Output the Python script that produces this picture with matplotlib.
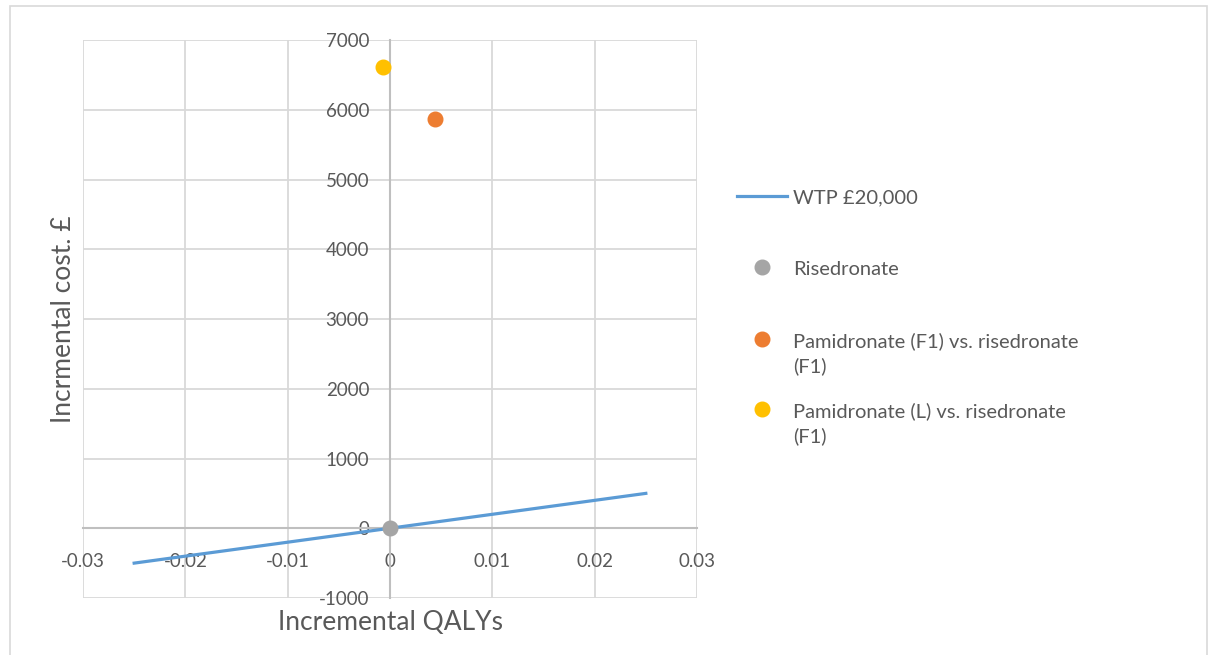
import numpy as np
import matplotlib
matplotlib.use("Agg")
import matplotlib.pyplot as plt
from matplotlib.patches import Rectangle

plt.rcParams['font.family'] = ['Lato', 'DejaVu Sans']
plt.rcParams['axes.unicode_minus'] = False

# willingness-to-pay line (£20,000 per QALY)
wtp_x = [-0.025, 0.025]
wtp_y = [-500, 500]

# comparator points (incremental QALYs, incremental cost)
rise_x, rise_y = [0.0], [0.0]
pam_f1_x, pam_f1_y = [0.0044], [5864]
pam_l_x, pam_l_y = [-0.0007], [6614]

labels = ["WTP £20,000", "Risedronate",
          "Pamidronate (F1) vs. risedronate\n(F1)",
          "Pamidronate (L) vs. risedronate\n(F1)"]

xticks = [-0.03, -0.02, -0.01, 0, 0.01, 0.02, 0.03]
xticklabels = ["-0.03", "-0.02", "-0.01", "0", "0.01", "0.02", "0.03"]
yticks = [-1000, 0, 1000, 2000, 3000, 4000, 5000, 6000, 7000]

txt = "#595959"
grid_c = "#d9d9d9"

fig = plt.figure(figsize=(12.11, 6.55), dpi=100)
fig.patches.append(Rectangle((10/1211, -0.1), 1197/1211, 1 - 6/655 + 0.1,
                             transform=fig.transFigure, fill=False,
                             edgecolor=grid_c, lw=1.2))

ax = fig.add_axes([83/1211, 57/655, 614/1211, 558/655])

ax.plot(wtp_x, wtp_y, color="#5B9BD5", lw=2.3, label=labels[0], zorder=3)
ax.plot(rise_x, rise_y, 'o', color="#A5A5A5", ms=10.5, label=labels[1], zorder=4)
ax.plot(pam_f1_x, pam_f1_y, 'o', color="#ED7D31", ms=10.5, label=labels[2], zorder=4)
ax.plot(pam_l_x, pam_l_y, 'o', color="#FFC000", ms=10.5, label=labels[3], zorder=4)

ax.set_xlim(-0.03, 0.03)
ax.set_ylim(-1000, 7000)
ax.set_xticks(xticks)
ax.set_xticklabels(xticklabels)
ax.set_yticks(yticks)
ax.grid(True, color=grid_c, lw=1.3, zorder=0)
ax.set_axisbelow(True)

for s in ['top', 'right']:
    ax.spines[s].set_visible(False)
ax.spines['bottom'].set_position(('data', 0))
ax.spines['left'].set_position(('data', 0))
for s in ['bottom', 'left']:
    ax.spines[s].set_color("#bfbfbf")
    ax.spines[s].set_linewidth(1.5)
    ax.spines[s].set_zorder(1)

ax.tick_params(axis='x', length=0, pad=18, labelsize=13.5, labelcolor=txt)
ax.tick_params(axis='y', length=0, pad=15, labelsize=13.5, labelcolor=txt)

ax.set_xlabel("Incremental QALYs", fontsize=19, color=txt)
ax.xaxis.set_label_coords(0.5, -0.022)
ax.set_ylabel("Incrmental cost. £", fontsize=19, color=txt)
ax.yaxis.set_label_coords(-0.012, 0.5)

# legend: one entry per box so the spacing follows the original
handles, _ = ax.get_legend_handles_labels()
leg_y = [198, 269, 354, 424]
for h, lab, yp in zip(handles, labels, leg_y):
    leg = fig.legend([h], [lab], loc='center left',
                     bbox_to_anchor=(737/1211, 1 - yp/655),
                     frameon=False, fontsize=14.5, labelcolor=txt,
                     handlelength=2.5, handletextpad=0.3,
                     borderpad=0, borderaxespad=0)
    for t in leg.get_texts():
        t.set_linespacing(1.45)
    if "\n" in lab:
        # marker next to the first line of a wrapped label
        mk = leg.legend_handles[0]
        mk.set_ydata(np.asarray(mk.get_ydata()) + 10.5)

fig.savefig("out.png", dpi=100)
